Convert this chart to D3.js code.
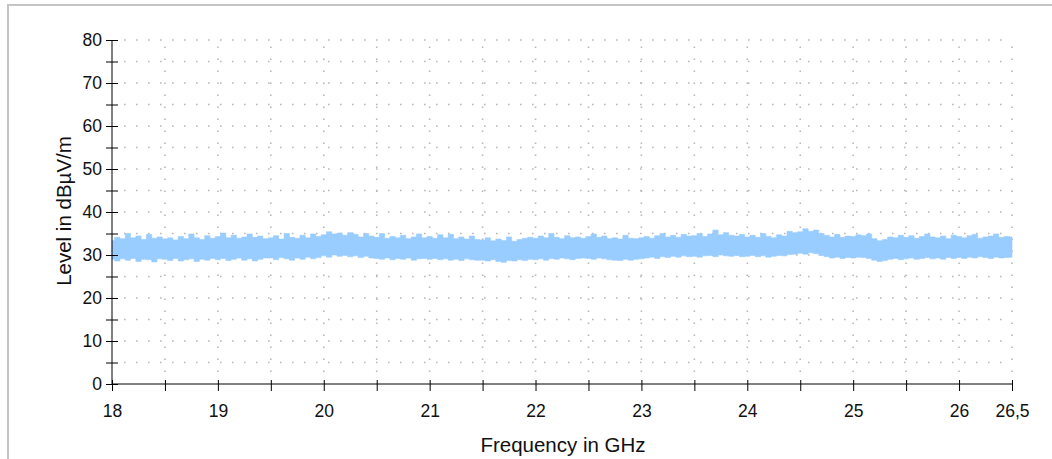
<!DOCTYPE html>
<html>
<head>
<meta charset="utf-8">
<script src="https://cdn.jsdelivr.net/npm/d3@7"></script>
<style>
  html, body { margin: 0; padding: 0; background: #ffffff; }
  svg { display: block; font-family: "Liberation Sans", Arial, sans-serif; }
</style>
</head>
<body>
<svg id="chart" width="1052" height="459"></svg>
<script>
// Sweep: 18 GHz to 26.5 GHz, one envelope sample every 50 MHz
const sweepStart = 18;
const sweepStep = 0.05;

// Peak envelope (upper edge) of the measured trace, dBµV/m
const levelMax = [
  33.4, 34.1, 33.8, 35.0, 34.0, 34.4, 33.6, 34.8, 33.9, 34.2,
  33.7, 34.0, 33.5, 34.3, 33.8, 34.9, 34.0, 33.6, 34.5, 33.9,
  34.3, 35.1, 34.0, 34.6, 33.9, 34.2, 34.9, 34.1, 34.4, 33.8,
  34.0, 34.5, 33.7, 35.0, 34.1, 33.9, 34.6, 34.0, 34.9, 34.3,
  34.7, 35.4, 34.9, 35.1, 34.6, 35.2, 34.8, 34.2, 35.0, 34.4,
  34.1, 35.0, 33.9, 34.3, 34.0, 34.6, 33.8, 34.2, 34.9, 34.0,
  34.3, 33.9, 34.7, 34.0, 34.8, 33.8, 34.2, 33.7, 34.4, 33.6,
  33.5, 34.0, 33.3, 33.7, 33.4, 34.2, 33.2, 33.6, 33.9, 34.1,
  33.9, 34.4, 34.0, 35.0, 34.1, 33.8, 34.5, 34.0, 34.2, 33.9,
  34.3, 34.9, 34.1, 34.4, 33.8, 34.0, 33.7, 34.6, 33.9, 33.8,
  34.0, 34.3, 33.9, 34.5, 35.0, 34.2, 34.6, 34.1, 34.8, 34.4,
  34.5, 35.0, 34.3, 34.9, 35.8, 34.7, 35.2, 34.6, 34.4, 34.8,
  34.2, 34.6, 34.1, 35.0, 34.3, 34.0, 34.7, 34.4, 35.5, 35.2,
  35.4, 36.1, 35.5, 35.8, 35.0, 34.6, 34.2, 34.8, 34.1, 34.4,
  34.3, 34.7, 34.5, 34.9, 33.8, 33.3, 33.6, 34.2, 34.0, 34.6,
  34.1, 34.5, 33.9, 34.3, 34.9, 34.2, 34.0, 34.4, 33.8, 34.6,
  34.3, 34.0, 34.5, 34.8, 33.9, 34.2, 34.4, 34.9, 34.1, 34.3, 34.2
];

// Lower edge of the measured trace, dBµV/m
const levelMin = [
  29.0, 28.6, 29.1, 28.8, 29.2, 28.5, 29.0, 28.9, 28.4, 29.1,
  29.0, 28.7, 29.2, 28.6, 28.9, 29.1, 28.5, 29.0, 28.8, 29.2,
  28.9, 29.2, 28.7, 29.0, 29.3, 28.8, 29.1, 28.6, 29.0, 29.3,
  29.3, 28.9, 29.4, 29.1, 28.8, 29.3, 29.0, 29.5, 29.1, 29.4,
  29.8, 29.5, 30.0, 29.7, 29.9, 29.6, 29.8, 29.4, 29.7, 29.3,
  29.2, 29.0, 29.3, 28.9, 29.2, 29.0, 29.3, 28.8, 29.1, 29.2,
  29.0, 29.2, 28.9, 29.1, 28.8, 29.0, 28.7, 29.1, 28.9, 28.8,
  28.8, 28.6, 28.9, 28.5, 28.3, 28.7, 28.6, 28.9, 28.7, 29.0,
  28.9, 29.1, 28.8, 29.2, 29.0, 29.3, 29.1, 28.9, 29.2, 29.3,
  29.2, 29.0, 29.3, 29.1, 28.9, 28.8, 28.7, 29.0, 28.8, 29.0,
  29.1, 29.3, 29.5, 29.2, 29.6, 29.4, 29.7, 29.5, 29.8, 29.6,
  29.7, 29.5, 29.8, 29.9, 29.6, 30.0, 29.8, 29.7, 29.9, 29.6,
  29.7, 29.9, 29.6, 29.8, 29.5, 29.7, 29.9, 29.8, 30.1, 30.2,
  30.4, 30.2, 30.5, 30.3, 29.9, 29.6, 29.3, 29.5, 29.2, 29.4,
  29.3, 29.5, 29.4, 29.2, 28.8, 28.5, 28.7, 29.0, 29.2, 28.9,
  29.1, 29.3, 29.0, 29.2, 29.4, 29.1, 29.3, 29.0, 29.4, 29.2,
  29.4, 29.2, 29.5, 29.3, 29.6, 29.4, 29.2, 29.5, 29.3, 29.4, 29.5
];

// Axis ticks
const freqTicks = [18, 18.5, 19, 19.5, 20, 20.5, 21, 21.5, 22, 22.5, 23, 23.5, 24, 24.5, 25, 25.5, 26, 26.5];
const freqLabels = [18, 19, 20, 21, 22, 23, 24, 25, 26, 26.5];
const levelTicks = [0, 5, 10, 15, 20, 25, 30, 35, 40, 45, 50, 55, 60, 65, 70, 75, 80];
const levelLabels = [0, 10, 20, 30, 40, 50, 60, 70, 80];

const xTitle = "Frequency in GHz";
const yTitle = "Level in dBµV/m";

const svg = d3.select("#chart");

// outer frame
svg.append("rect")
  .attr("x", 8).attr("y", 5)
  .attr("width", 1100).attr("height", 500)
  .attr("fill", "none")
  .attr("stroke", "#c4c4c4")
  .attr("stroke-width", 2);

const x = d3.scaleLinear().domain([18, 26.5]).range([112, 1012]);
const y = d3.scaleLinear().domain([0, 80]).range([384, 40]);

const locale = d3.formatLocale({ decimal: ",", thousands: ".", grouping: [3], currency: ["", ""] });
const fmt = locale.format("~g");

// dotted grid
const grid = svg.append("g").attr("class", "grid")
  .attr("stroke", "#b8b8b8")
  .attr("stroke-width", 1.6)
  .attr("stroke-dasharray", "1.6 10.4");

grid.selectAll("line.h")
  .data(levelTicks.filter(v => v > 0))
  .join("line")
  .attr("class", "h")
  .attr("x1", x(18) + 12).attr("x2", x(26.5))
  .attr("y1", d => y(d)).attr("y2", d => y(d));

grid.selectAll("line.v")
  .data(freqTicks.filter(v => v > 18))
  .join("line")
  .attr("class", "v")
  .attr("x1", d => x(d)).attr("x2", d => x(d))
  .attr("y1", y(0) - 12).attr("y2", y(80));

// measured trace, filled between lower and upper edge
const samples = levelMax.map((hi, i) => ({
  f: sweepStart + i * sweepStep,
  hi: hi,
  lo: levelMin[i]
}));

const area = d3.area()
  .x(d => x(d.f))
  .y0(d => y(d.lo))
  .y1(d => y(d.hi))
  .curve(d3.curveStep);

svg.append("path")
  .datum(samples)
  .attr("d", area)
  .attr("fill", "#99ccff")
  .attr("stroke", "#99ccff")
  .attr("stroke-width", 0.6);

// y axis
const yAxis = d3.axisLeft(y)
  .tickValues(levelTicks)
  .tickSize(6)
  .tickPadding(4)
  .tickFormat(d => levelLabels.includes(d) ? fmt(d) : "");

const gy = svg.append("g")
  .attr("transform", `translate(${x(18)},0)`)
  .call(yAxis);
gy.selectAll(".tick line").attr("x1", -6).attr("x2", 6).attr("stroke", "#000");
gy.select(".domain").attr("stroke", "#000").attr("d", `M0,${y(80)}V${y(0)}`);
gy.selectAll("text").attr("font-size", 17.5).attr("fill", "#111")
  .attr("font-family", "Liberation Sans, Arial, sans-serif");

// x axis
const xAxis = d3.axisBottom(x)
  .tickValues(freqTicks)
  .tickSize(7)
  .tickPadding(14)
  .tickFormat(d => freqLabels.includes(d) ? fmt(d) : "");

const gx = svg.append("g")
  .attr("transform", `translate(0,${y(0)})`)
  .call(xAxis);
gx.selectAll(".tick line").attr("y1", -4).attr("y2", 7).attr("stroke", "#000");
gx.select(".domain").attr("stroke", "#000").attr("d", `M${x(18)},0H${x(26.5)}`);
gx.selectAll("text").attr("font-size", 17.5).attr("fill", "#111")
  .attr("font-family", "Liberation Sans, Arial, sans-serif");

// axis titles
svg.append("text")
  .attr("x", 563)
  .attr("y", 452)
  .attr("text-anchor", "middle")
  .attr("font-size", 20.5)
  .attr("fill", "#111")
  .text(xTitle);

svg.append("text")
  .attr("transform", `translate(71,${(y(0) + y(80)) / 2 - 1}) rotate(-90)`)
  .attr("text-anchor", "middle")
  .attr("font-size", 20.5)
  .attr("fill", "#111")
  .text(yTitle);
</script>
</body>
</html>
